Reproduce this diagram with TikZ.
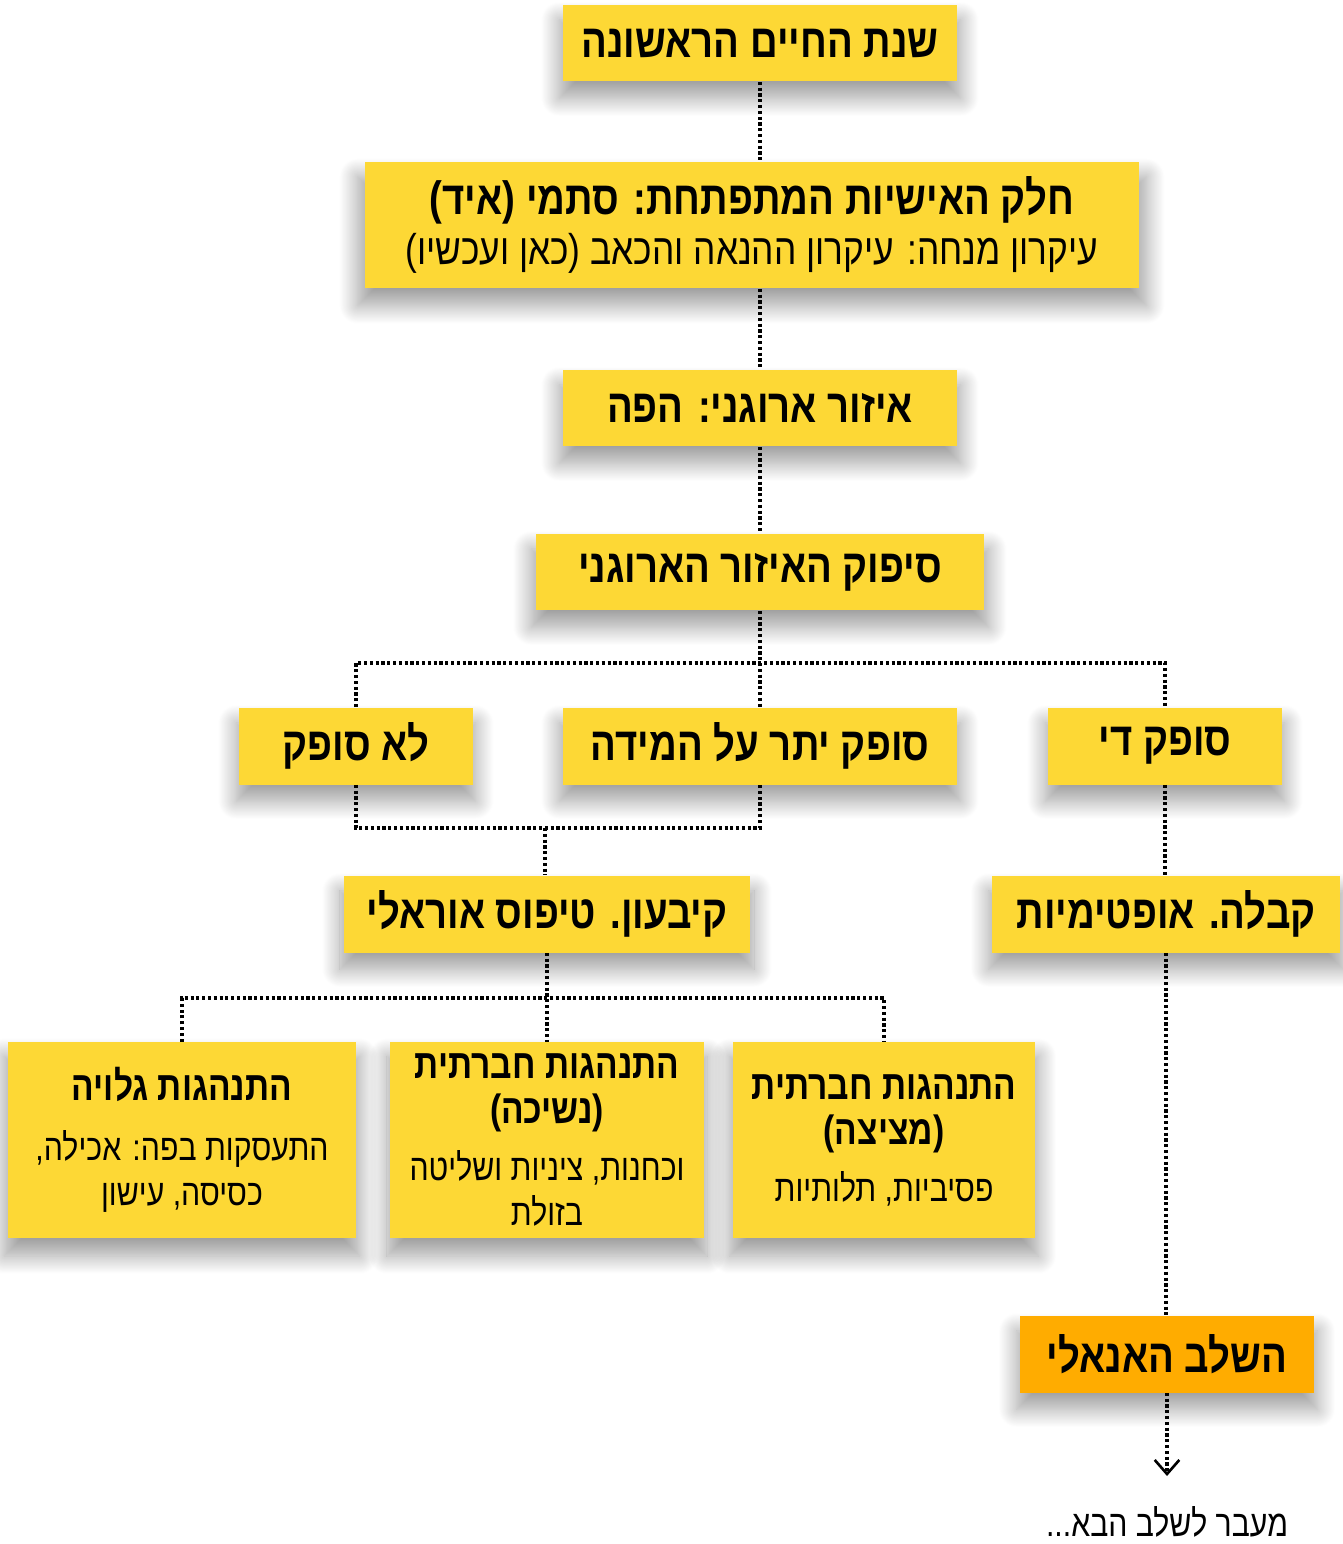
\documentclass[tikz,border=0pt]{standalone}
\usepackage{fontspec}
\TeXXeTstate=1
\newfontfamily\hebfont[Script=Hebrew,FakeStretch=0.82]{Liberation Sans}
\usetikzlibrary{positioning}
\usetikzlibrary{arrows.meta}
\usetikzlibrary{shadows.blur}
\definecolor{boxyellow}{RGB}{253,216,53}
\definecolor{boxorange}{RGB}{255,172,0}
\newcommand{\heb}[1]{\beginR #1\endR}
\newcommand{\hebhead}[1]{{\bfseries\fontsize{23.3}{28.5}\selectfont\beginR #1\endR}}

\begin{document}
\begin{tikzpicture}[
  x=0.02cm, y=-0.02cm,
  every node/.style={font=\hebfont, text=black},
  box/.style={fill=boxyellow, minimum height=1.54cm, inner sep=0pt, align=center,
    font=\hebfont\bfseries\fontsize{26.6}{31}\selectfont,
    blur shadow={shadow xshift=0pt, shadow yshift=-9pt, shadow scale=1.02,
      shadow blur radius=10pt, shadow blur steps=24, shadow opacity=38}},
  tall/.style={box, minimum height=3.92cm, font=\hebfont\fontsize{21}{26}\selectfont},
  link/.style={dash pattern=on 1.8pt off 1.5pt, line width=1.8pt},
  ar/.style={link, -{Straight Barb[length=8pt, width=14pt, line width=1.5pt]}},
  auto
  ] %
    \useasboundingbox (0,0) rectangle (1342,1544);
    % top chain
    \node[box, minimum width=7.88cm](year) at (760,43){\heb{שנת החיים הראשונה}};
    \node[box, minimum width=15.48cm, minimum height=2.54cm](id) at (752,225)
      {\heb{חלק האישיות המתפתחת: סתמי (איד)}\\[-3pt]
       \mdseries\fontsize{24.5}{29}\selectfont\heb{עיקרון מנחה: עיקרון ההנאה והכאב (כאן ועכשיו)}};
    \node[box, minimum width=7.88cm](oral) at (760,408){\heb{איזור ארוגני: הפה}};
    \node[box, minimum width=8.98cm](supp) at (760,572){\heb{סיפוק האיזור הארוגני}};
    % three outcomes
    \node[box, minimum width=4.7cm](none) at (356,746){\heb{לא סופק}};
    \node[box, minimum width=7.88cm](over) at (760,746){\heb{סופק יתר על המידה}};
    \node[box, minimum width=4.7cm](enough) at (1165,746){\heb{סופק די}};
    \node[box, minimum width=8.12cm](fix) at (547,914){\heb{קיבעון. טיפוס אוראלי}};
    \node[box, minimum width=6.96cm](accept) at (1166,914){\heb{קבלה. אופטימיות}};
    % behaviours
    \node[tall, minimum width=6.98cm](open) at (182,1140)
      {\hebhead{התנהגות גלויה}\\[8pt]
       \heb{התעסקות בפה: אכילה,}\\ \heb{כסיסה, עישון}};
    \node[tall, minimum width=6.28cm](bite) at (547,1140)
      {\hebhead{התנהגות חברתית}\\ \hebhead{(נשיכה)}\\[6pt]
       \heb{וכחנות, ציניות ושליטה}\\ \heb{בזולת}};
    \node[tall, minimum width=6.06cm](suck) at (884,1140)
      {\hebhead{התנהגות חברתית}\\ \hebhead{(מציצה)}\\[6pt]
       \heb{פסיביות, תלותיות}};
    \node[box, fill=boxorange, minimum width=5.9cm](anal) at (1167,1354){\heb{השלב האנאלי}};
    \node[font=\hebfont\fontsize{21}{24}\selectfont, anchor=base](next) at (1167,1536){\heb{מעבר לשלב הבא...}};
    % connectors
    \coordinate (split) at (760,663);
    \coordinate (join) at (545,828);
    \coordinate (split2) at (545,998);
    \coordinate (tip) at (1167,1476);
    \draw[link](year) -- (year |- id.north);
    \draw[link](oral |- id.south) -- (oral);
    \draw[link](oral) -- (supp);
    \draw[link](supp) -- (over);
    \draw[link](none.north) |- (split) -| (enough.north);
    \draw[link](none.south) |- (join) -| (over.south);
    \draw[link](join) -- (join |- fix.north);
    \draw[link](enough) -- (enough |- accept.north);
    \draw[link](fix) -- (bite);
    \draw[link](open.north) |- (split2) -| (suck.north);
    \draw[link](accept) -- (accept |- anal.north);
    \draw[ar](anal) -- (tip);
  \end{tikzpicture}
\end{document}
